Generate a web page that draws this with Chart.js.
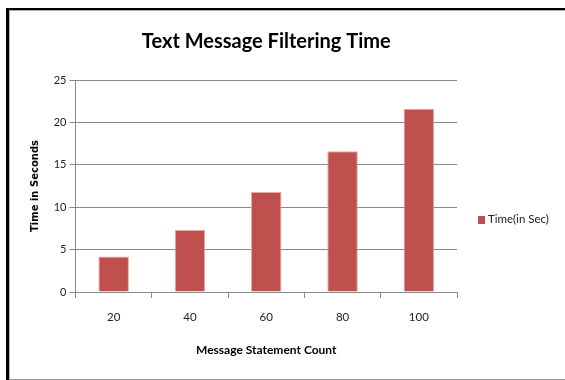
<!DOCTYPE html>
<html lang="en">
<head>
<meta charset="UTF-8">
<title>Text Message Filtering Time</title>
<script src="https://cdn.jsdelivr.net/npm/chart.js"></script>
<style>
    body { margin: 0; background: #fff; }
    .wrap { position: relative; width: 565px; height: 380px; overflow: hidden; }
    .frame {
        position: absolute; left: 6px; top: 8px; right: -10px; bottom: 0;
        border-left: 3px solid #000; border-top: 2px solid #000;
    }
    .frame-inner {
        position: absolute; left: 0; top: 0; right: 0; bottom: 0;
        border-left: 1px solid #b0b0b0; border-top: 1px solid #b0b0b0; border-bottom: 1px solid #999;
    }
    canvas { position: absolute; left: 0; top: 0; }
    .legend {
        position: absolute; left: 478px; top: 212px;
        font: 11.5px Lato, sans-serif; color: #222;
    }
    .legend .swatch {
        display: inline-block; width: 7px; height: 8px; margin-right: 3px; vertical-align: -1px;
    }
</style>
</head>
<body>
<div class="wrap">
    <div class="frame"><div class="frame-inner"></div></div>
    <canvas id="chart" width="565" height="380"></canvas>
    <div class="legend" id="legend"></div>
</div>

<script>
    const counts = ['20', '40', '60', '80', '100'];
    const times = [4.2, 7.3, 11.8, 16.6, 21.6];
    const seriesName = 'Time(in Sec)';
    const barColor = '#C0504D';
    const lineColor = '#8a8a8a';

    const ctx = document.getElementById('chart').getContext('2d');
    const chart = new Chart(ctx, {
        type: 'bar',
        data: {
            labels: counts,
            datasets: [{
                label: seriesName,
                data: times,
                backgroundColor: barColor,
                borderColor: '#e6aaa9',
                borderWidth: 1,
                barPercentage: 0.4,
                categoryPercentage: 1
            }]
        },
        options: {
            responsive: false,
            animation: false,
            layout: { padding: { left: 8, right: 108, top: 10, bottom: 0 } },
            plugins: {
                legend: { display: false },
                tooltip: { enabled: false },
                title: {
                    display: true,
                    fullSize: false,
                    text: 'Text Message Filtering Time',
                    color: '#000',
                    font: { family: 'Lato', size: 20, weight: 'bold' },
                    padding: { top: 20, bottom: 26 }
                }
            },
            scales: {
                x: {
                    afterFit: s => { s.height = 88; },
                    grid: { display: true, offset: true, drawOnChartArea: false, drawTicks: true, tickLength: 6, color: lineColor },
                    border: { color: lineColor },
                    ticks: { color: '#222', font: { family: 'Lato', size: 11.5 }, padding: 12 },
                    title: {
                        display: true,
                        text: 'Message Statement Count',
                        color: '#000',
                        font: { family: 'Lato', size: 12, weight: 'bold' },
                        padding: { top: 0, bottom: 23 }
                    }
                },
                y: {
                    min: 0,
                    max: 25,
                    afterFit: s => { s.width = 67.5; },
                    grid: { color: lineColor, tickLength: 6 },
                    border: { color: lineColor },
                    ticks: { stepSize: 5, color: '#222', font: { family: 'Lato', size: 11 }, padding: 3 },
                    title: {
                        display: true,
                        text: 'Time in Seconds',
                        color: '#000',
                        font: { family: 'DejaVu Sans', size: 10, weight: 'bold' },
                        padding: { top: 21, bottom: 0 }
                    }
                }
            }
        }
    });

    // legend kept as page text beside the plot
    const ds = chart.data.datasets[0];
    const legend = document.getElementById('legend');
    const sw = document.createElement('span');
    sw.className = 'swatch';
    sw.style.background = ds.backgroundColor;
    legend.appendChild(sw);
    legend.appendChild(document.createTextNode(ds.label));
</script>
</body>
</html>
